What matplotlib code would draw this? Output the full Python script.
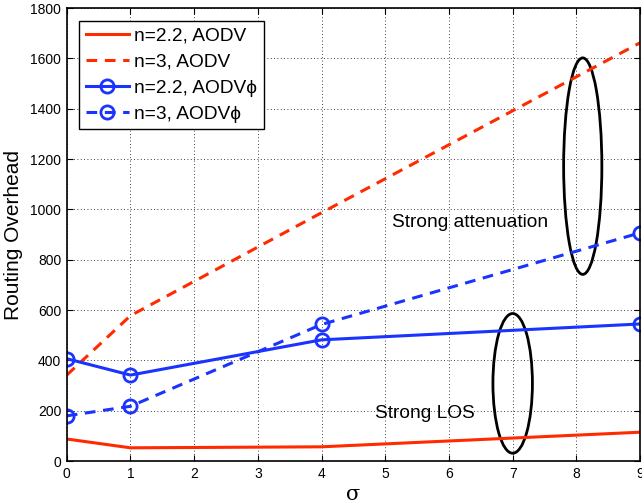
import numpy as np
import matplotlib.pyplot as plt
from matplotlib.patches import Ellipse

# data
sigma = [0, 1, 4, 9]
aodv_22 = [88, 53, 57, 115]
aodv_3 = [342, 578, 987, 1662]
aodvphi_22 = [407, 342, 482, 545]
aodvphi_3 = [180, 218, 543, 907]

red = '#ff2a00'
blue = '#1a33ff'

plt.rcParams['font.family'] = ['Liberation Sans', 'DejaVu Sans']

fig = plt.figure(figsize=(6.42, 5.04), dpi=100)
ax = fig.add_axes([0.104, 0.085, 0.893, 0.899])

ax.plot(sigma, aodv_22, '-', color=red, lw=2.2, label='n=2.2, AODV')
ax.plot(sigma, aodv_3, '--', color=red, lw=2.2, dashes=(3.5, 2.5), label='n=3, AODV')
ax.plot(sigma, aodvphi_22, '-', color=blue, lw=2.2, marker='o', ms=9.5,
        mfc='none', mew=2, label='n=2.2, AODV\u03d5')
ax.plot(sigma, aodvphi_3, '--', color=blue, lw=2.2, dashes=(3.5, 2.5), marker='o',
        ms=9.5, mfc='none', mew=2, label='n=3, AODV\u03d5')

# ellipses marking the two regimes
ax.add_patch(Ellipse((8.1, 1172), 0.6, 860, fill=False, ec='black', lw=2))
ax.add_patch(Ellipse((7.0, 309), 0.62, 555, fill=False, ec='black', lw=2))
ax.text(5.1, 950, 'Strong attenuation', fontsize=13.8, va='center')
ax.text(4.84, 190, 'Strong LOS', fontsize=13.8, va='center')

ax.set_xlim(0, 9)
ax.set_ylim(0, 1800)
ax.set_xticks(range(0, 10))
ax.set_yticks(range(0, 1801, 200))
ax.tick_params(direction='in', top=True, right=True, labelsize=10, length=4, pad=4)
ax.grid(True, color='black', linestyle=(0, (1, 3)), linewidth=0.6)
for s in ax.spines.values():
    s.set_linewidth(1.2)

ax.set_xlabel('\u03c3', fontsize=15, family='DejaVu Serif', labelpad=3)
ax.set_ylabel('Routing Overhead', fontsize=15, labelpad=5)

leg = ax.legend(loc='upper left', fontsize=13.8, fancybox=False, framealpha=1,
                edgecolor='black', handlelength=2.25, borderaxespad=0.65,
                labelspacing=0.45, borderpad=0.35, handletextpad=0.25)
leg.get_frame().set_linewidth(1.0)

fig.savefig('out.png', dpi=100)
